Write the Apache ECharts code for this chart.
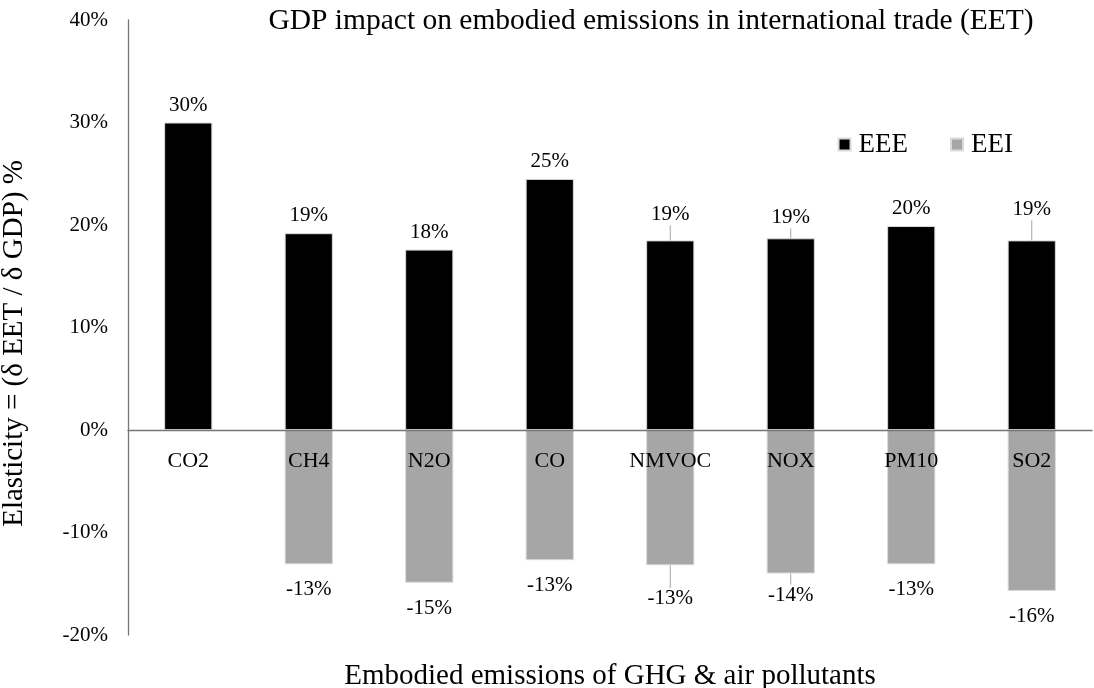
<!DOCTYPE html>
<html>
<head>
<meta charset="utf-8">
<script src="https://cdn.jsdelivr.net/npm/echarts@6/dist/echarts.min.js"></script>
<style>
  html, body { margin: 0; padding: 0; background: #fff; }
  #chart { width: 1094px; height: 688px; }
</style>
</head>
<body>
<div id="chart"></div>
<script>
// Pollutant categories and elasticities (%) for exports (EEE) and imports (EEI)
const categories = ['CO2', 'CH4', 'N2O', 'CO', 'NMVOC', 'NOX', 'PM10', 'SO2'];
const eee = [30.0, 19.2, 17.6, 24.5, 18.5, 18.7, 19.9, 18.5];
const eei = [null, -13.1, -14.9, -12.7, -13.2, -14.0, -13.1, -15.7];
const yTicks = [-20, -10, 0, 10, 20, 30, 40];

// Extra vertical nudges for labels that sit away from their bars (px)
const eeeLabelShift = [0, 0, 0, 0, -8, -3, 0, -13];
const eeiLabelShift = [0, 0, 0, 0, 8, -4, 0, 0];

const FONT = '"Liberation Serif", "DejaVu Serif", serif';
const GRID = { left: 128, right: 2, top: 20, bottom: 53 };
const CAT_LABEL_GAP = 20;   // gap between the zero line and category names

const chart = echarts.init(document.getElementById('chart'));

// Bar items; labels that are nudged away get a thin leader line
function items(values, shifts) {
  return values.map((v, i) => ({
    value: v,
    labelLine: { show: shifts[i] !== 0 }
  }));
}

function shiftLayout(shifts) {
  return function (p) {
    const dy = shifts[p.dataIndex] || 0;
    return dy ? { dy: dy } : {};
  };
}

chart.setOption({
  animation: false,
  backgroundColor: '#fff',
  textStyle: { fontFamily: FONT, color: '#000' },
  title: {
    text: 'GDP impact on embodied emissions in international trade (EET)',
    left: 646,
    textAlign: 'center',
    top: 1,
    textStyle: { fontFamily: FONT, fontSize: 29.5, fontWeight: 'normal', color: '#000' }
  },
  legend: {
    right: 76,
    top: 126,
    itemWidth: 12,
    itemHeight: 12,
    itemGap: 42,
    icon: 'rect',
    textStyle: { fontFamily: FONT, fontSize: 27, color: '#000', padding: [0, 0, 0, 3] },
    data: ['EEE', 'EEI']
  },
  grid: Object.assign({ containLabel: false, outerBoundsMode: 'none' }, GRID),
  xAxis: {
    type: 'category',
    data: categories,
    z: 5,
    name: 'Embodied emissions of GHG & air pollutants',
    nameLocation: 'middle',
    nameGap: 27,
    nameMoveOverlap: false,
    nameTextStyle: { fontFamily: FONT, fontSize: 29, color: '#000' },
    axisLine: { onZero: true, lineStyle: { color: '#767676', width: 1.3 } },
    axisTick: { show: false },
    axisLabel: { fontFamily: FONT, fontSize: 22, color: '#000', margin: CAT_LABEL_GAP }
  },
  yAxis: {
    type: 'value',
    min: yTicks[0],
    max: yTicks[yTicks.length - 1],
    interval: 10,
    name: 'Elasticity = (δ EET / δ GDP) %',
    nameLocation: 'middle',
    nameGap: 99,
    nameTextStyle: { fontFamily: FONT, fontSize: 29, color: '#000', padding: [0, 32, 0, 0] },
    axisLine: { show: true, lineStyle: { color: '#767676', width: 1.3 } },
    axisTick: { show: false },
    splitLine: { show: false },
    axisLabel: {
      fontFamily: FONT, fontSize: 21, color: '#000', margin: 20,
      formatter: v => v + '%'
    }
  },
  series: [
    {
      name: 'EEE',
      type: 'bar',
      data: items(eee, eeeLabelShift),
      barWidth: '40%',
      barGap: '-100%',
      itemStyle: { color: '#000', borderColor: '#d9d9d9', borderWidth: 1 },
      label: {
        show: true, position: 'top', distance: 7,
        fontFamily: FONT, fontSize: 21, color: '#000',
        formatter: p => Math.round(p.value) + '%'
      },
      labelLayout: shiftLayout(eeeLabelShift),
      labelLine: { lineStyle: { color: '#a6a6a6', width: 1 } }
    },
    {
      name: 'EEI',
      type: 'bar',
      data: items(eei, eeiLabelShift),
      barWidth: '40%',
      itemStyle: { color: '#a6a6a6', borderColor: '#d9d9d9', borderWidth: 1 },
      label: {
        show: true, position: 'bottom', distance: 15,
        fontFamily: FONT, fontSize: 21, color: '#000',
        formatter: p => Math.round(p.value) + '%'
      },
      labelLayout: shiftLayout(eeiLabelShift),
      labelLine: { lineStyle: { color: '#a6a6a6', width: 1 } }
    }
  ]
});

// Category names hang just under the zero line rather than under the plot bottom
const zeroY = chart.convertToPixel({ yAxisIndex: 0 }, 0);
const plotBottom = chart.getHeight() - GRID.bottom;
chart.setOption({
  xAxis: { axisLabel: { margin: CAT_LABEL_GAP - (plotBottom - zeroY) } }
});
</script>
</body>
</html>
